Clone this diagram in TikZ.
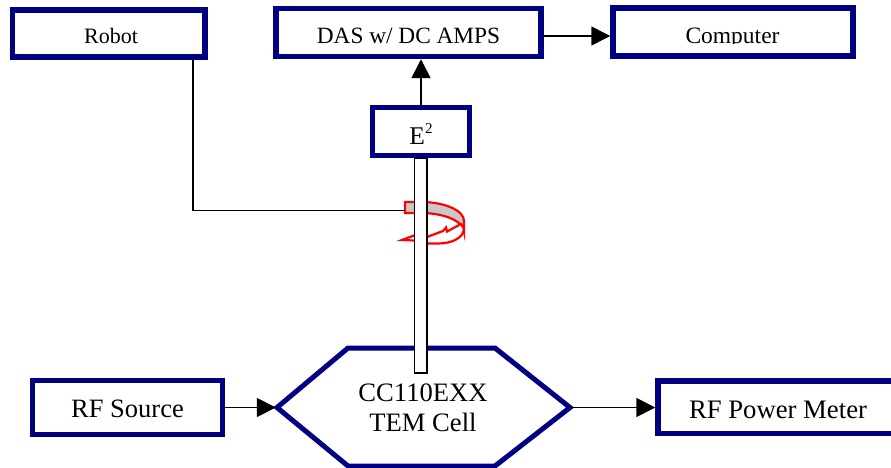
\documentclass[tikz,border=0pt]{standalone}
\usepackage{fontspec}
\setmainfont{Liberation Serif}
\usetikzlibrary{arrows.meta,calc}
\definecolor{boxnavy}{RGB}{0,0,128}
\definecolor{bandgrey}{RGB}{200,200,200}
\begin{document}
\begin{tikzpicture}[x=1pt,y=-1pt,
  blk/.style={draw=boxnavy, line width=5.5pt, fill=white, inner sep=0pt, text depth=0pt},
  conn/.style={line width=1.6pt, -{Triangle[length=19pt,width=19pt]}},
  wire/.style={line width=1.6pt},
  redpart/.style={draw=red, line width=2.2pt, line join=miter}]
\useasboundingbox (0,0) rectangle (891,468);

% hexagon (TEM cell)
\node[inner sep=0pt, minimum width=294pt, minimum height=118pt, align=center,
      font=\fontsize{26.6}{30}\selectfont] (tem) at (423,407.5) {CC110EXX\\TEM Cell};
\draw[boxnavy, line width=5pt, line join=miter]
  (277,407.5) -- (348,348) -- (495,348) -- (570,407.5) -- (495,466) -- (348,466) -- cycle;

% boxes
\node[blk, minimum width=192.5pt, minimum height=47pt] (robot) at (108.75,33.75) {};
\node[blk, minimum width=265pt, minimum height=48pt, text height=21.6pt,
      font=\fontsize{23.3}{28}\selectfont] (das) at (408.5,32.5) {DAS w/ DC AMPS};
\node[blk, minimum width=240pt, minimum height=48pt] (comp) at (733,32) {};
\node[blk, minimum width=190pt, minimum height=54pt, text height=20.4pt,
      font=\fontsize{26.5}{30}\selectfont] (rfs) at (127.5,407.5) {RF Source};
\node[blk, minimum width=240pt, minimum height=52.5pt, text height=21.5pt,
      font=\fontsize{26.7}{30}\selectfont] (rfpm) at (778,407.25) {RF Power Meter};

% clipped labels
\begin{scope}
  \clip (0,0) rectangle (891,43.3);
  \node[anchor=base, inner sep=0pt, font=\fontsize{22}{26}\selectfont] (robotlbl) at (111,44) {Robot};
  \node[anchor=base, inner sep=0pt, font=\fontsize{23.5}{28}\selectfont] (complbl) at (732.5,44) {Computer};
\end{scope}

% rotation band (grey ring)
\coordinate (bandL) at (405,210.5);
\coordinate (rbend) at (193,210.5);
\draw[redpart, fill=bandgrey]
  (405,202) -- (421,202) .. controls (444.7,202) and (464,210.5) .. (464,221)
  -- (464,232) .. controls (464,221.5) and (444.7,213) .. (421,213) -- (405,213) -- cycle;

% curved red arrow
\draw[redpart, fill=white]
  (402,240) -- (414,235.5) -- (427,237) -- (443,231) -- (446,227.5) -- (447,231.5)
  -- (461,224) -- (464,229) .. controls (463,238) and (452,243.5) .. (438,243.5)
  -- (427,243.5) -- (414,240.5) -- cycle;

% rod
\node[draw, fill=white, line width=1.2pt, minimum width=12.5pt, minimum height=215pt,
      inner sep=0pt] (rod) at (420.75,265.5) {};

% E^2 box
\node[blk, minimum width=97pt, minimum height=48pt, text height=25pt,
      font=\fontsize{25.5}{30}\selectfont] (e2) at (421,131.5)
      {E\raisebox{10pt}{\fontsize{15}{17}\selectfont 2}};

% connectors
\draw[wire] (robot.south -| rbend) -- (rbend) -- (bandL);
\draw[conn] (e2.north) -- (e2.north |- das.south);
\draw[conn] ([yshift=-3.5pt]das.east) -- ([yshift=-3.5pt]das.east -| comp.west);
\draw[conn] (rfs.east) -- (rfs.east -| tem.west);
\draw[conn] (tem.east) -- (tem.east -| rfpm.west);
\end{tikzpicture}
\end{document}
